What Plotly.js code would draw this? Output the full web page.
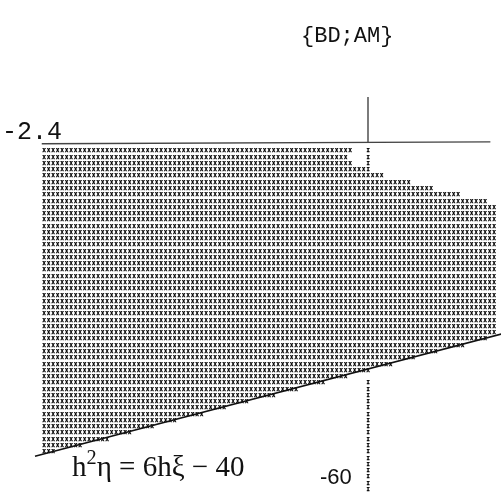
<!DOCTYPE html>
<html>
<head>
<meta charset="utf-8">
<script src="https://cdn.plot.ly/plotly-3.0.1.min.js"></script>
<style>html,body{margin:0;padding:0;background:#fff;}#plot{width:501px;height:494px;}#plot svg{filter:grayscale(100%);}#plot .textpoint text{stroke:#000;stroke-width:0.35px;}</style>
</head>
<body>
<div id="plot"></div>
<script>
// Line-printer stability map: each row is filled with 'X' from column 0 to rowEnd (inclusive)
const rowEnd = [68, 67, 68, 71, 75, 81, 86, 92, 98,
  100, 100, 100, 100, 100, 100, 100, 100, 100, 100,
  100, 100, 100, 100, 100, 100, 100, 100, 100, 100, 100,
  98, 93, 87, 82, 77, 72, 67, 62, 56, 51, 45, 40, 35, 29, 24, 19, 14, 8, 2];
// dotted 'I' column (imaginary axis) : column and row segments [start, end]
const iCol = 72;
const iSegments = [[0, 3], [37, 54]];
// boundary line h^2 eta = 6 h xi - 40 (column, row)
const boundCols = [-2, 101.6];
const boundRows = [48.7, 29.2];
// axis lines
const hAxisCols = [-0.5, 99.2];
const hAxisRows = [-1.15, -1.45];
const vAxisCols = [72, 72];
const vAxisRows = [-8.6, -1.4];

const xs = [], ys = [];
rowEnd.forEach((e, r) => { for (let c = 0; c <= e; c++) { xs.push(c); ys.push(r); } });
const ix = [], iy = [];
iSegments.forEach(([a, b]) => { for (let r = a; r <= b; r++) { ix.push(iCol); iy.push(r); } });

const X0 = 44, DX = 4.5, Y0 = 151, DY = 6.27, W = 501, H = 494;

const traces = [
  {x: xs, y: ys, mode: 'text', type: 'scatter', text: xs.map(() => 'X'),
   textfont: {family: 'DejaVu Sans Mono', size: 5.4, weight: 'bold', color: '#000'}, textposition: 'middle center', hoverinfo: 'skip'},
  {x: ix, y: iy, mode: 'text', type: 'scatter', text: ix.map(() => 'I'),
   textfont: {family: 'DejaVu Sans Mono', size: 5.4, weight: 'bold', color: '#000'}, textposition: 'middle center', hoverinfo: 'skip'},
  {x: boundCols, y: boundRows, mode: 'lines', type: 'scatter', line: {color: '#111', width: 1.6}, hoverinfo: 'skip'},
  {x: hAxisCols, y: hAxisRows, mode: 'lines', type: 'scatter', line: {color: '#444', width: 1.4}, hoverinfo: 'skip'},
  {x: vAxisCols, y: vAxisRows, mode: 'lines', type: 'scatter', line: {color: '#444', width: 1.4}, hoverinfo: 'skip'}
];

const layout = {
  width: W, height: H, showlegend: false,
  margin: {l: 0, r: 0, t: 0, b: 0},
  paper_bgcolor: '#fff', plot_bgcolor: '#fff',
  colorway: ['#000'],
  xaxis: {range: [-X0 / DX, (W - X0) / DX], visible: false, fixedrange: true},
  yaxis: {range: [(H - Y0) / DY, -Y0 / DY], visible: false, fixedrange: true},
  annotations: [
    {text: '{BD;AM}', xref: 'paper', yref: 'paper', x: 347 / W, y: 1 - 36 / H, showarrow: false,
     font: {family: 'Liberation Mono', size: 22, color: '#111'}, xanchor: 'center', yanchor: 'middle'},
    {text: '-2.4', xref: 'paper', yref: 'paper', x: 0, y: 1 - 132 / H, showarrow: false,
     font: {family: 'Liberation Mono', size: 25, color: '#111'}, xanchor: 'left', yanchor: 'middle'},
    {text: 'h<sup>2</sup>η = 6hξ − 40', xref: 'paper', yref: 'paper', x: 70 / W, y: 1 - 464 / H, showarrow: false,
     font: {family: 'Liberation Serif', size: 29, color: '#111'}, xanchor: 'left', yanchor: 'middle'},
    {text: '-60', xref: 'paper', yref: 'paper', x: 318 / W, y: 1 - 476 / H, showarrow: false,
     font: {family: 'Liberation Sans', size: 22, color: '#111'}, xanchor: 'left', yanchor: 'middle'}
  ]
};
Plotly.newPlot('plot', traces, layout, {staticPlot: true, displayModeBar: false});
</script>
</body>
</html>
